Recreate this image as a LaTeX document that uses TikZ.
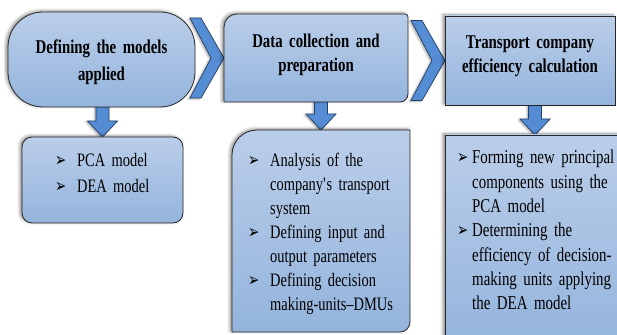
\documentclass[tikz,border=0pt]{standalone}
\usepackage{fontspec}
\usetikzlibrary{calc}
\usetikzlibrary{backgrounds}
\usetikzlibrary{shadows.blur}

\newfontfamily\boxfont[Ligatures=TeX,FakeStretch=0.76]{Liberation Serif}
\newfontfamily\bulletfont{DejaVu Sans}

\definecolor{boxtop}{RGB}{186,206,233}
\definecolor{boxbottom}{RGB}{148,180,221}
\definecolor{arrowfill}{RGB}{84,141,212}
\definecolor{arrowline}{RGB}{36,62,100}

\tikzset{shade box/.style={draw=black!85,line width=0.8pt,
  top color=boxtop,bottom color=boxbottom,
  blur shadow={shadow xshift=-2pt,shadow yshift=1pt,shadow blur radius=3pt,shadow opacity=45}}}
\tikzset{blue arrow/.style={draw=arrowline,line width=0.7pt,fill=arrowfill,
  blur shadow={shadow xshift=-1.5pt,shadow yshift=-1pt,shadow blur radius=2pt,shadow opacity=35}}}

% marcador de item com recuo pendente
\newcommand\marca[1]{\hangindent=#1\hangafter=1\noindent
  \makebox[#1][l]{\raisebox{0pt}{\scalebox{0.7}[1]{\bulletfont\fontsize{19}{19}\selectfont ➢}}}}
\newcommand\quebra{\hfil\break}
\newcommand\espaco{\spaceskip=3.6pt plus 1pt minus 0.5pt}

\begin{document}
\begin{tikzpicture}[x=1pt,y=1pt,
    area/.style={inner sep=0pt,outer sep=0pt},
    title text/.style={inner sep=0pt,align=center,anchor=base,text width=180pt},
    list text/.style={inner sep=0pt,anchor=base west,text width=175pt}]

    \useasboundingbox (0,0) rectangle (617,334);
    \clip (0,0) rectangle (617,334);

    % Caixas de cima
    \node [area,shade box,rounded corners=35pt,minimum width=187pt,minimum height=95pt]
      (models) at (101.5,274.5) {};

    \node [area,minimum width=184pt,minimum height=88pt] (data) at (316,276) {};
    \draw [shade box] (data.south west) --
      ($(data.north west)+(0,-13pt)$) arc[start angle=180,end angle=90,radius=13pt] --
      ($(data.north east)+(-3pt,0)$) arc[start angle=90,end angle=0,radius=3pt] --
      ($(data.south east)+(0,8pt)$) arc[start angle=0,end angle=-90,radius=8pt] -- cycle;

    \node [area,shade box,minimum width=170pt,minimum height=89pt]
      (calc) at (530,273.5) {};

    % Caixas de baixo
    \node [area,shade box,rounded corners=10pt,minimum width=161pt,minimum height=86pt]
      (pcadea) at (102.5,154) {};

    \node [area,minimum width=178pt,minimum height=202pt] (analysis) at (321,103) {};
    \draw [shade box] (analysis.south west) --
      ($(analysis.north west)+(0,-25pt)$) arc[start angle=180,end angle=90,radius=25pt] --
      (analysis.north east) --
      ($(analysis.south east)+(0,10pt)$) arc[start angle=0,end angle=-90,radius=10pt] -- cycle;

    \node [area,shade box,minimum width=180pt,minimum height=210pt]
      (forming) at (535,94) {};

    % Setas entre as caixas
    \begin{scope}[on background layer]
      \foreach \para in {data,calc}
        \draw [blue arrow] let \p1=(\para.west) in
          (\x1-34pt,\y1+40pt) -- (\x1-23pt,\y1+40pt) -- (\x1,\y1) --
          (\x1-23pt,\y1-40pt) -- (\x1-34pt,\y1-40pt) -- (\x1-13pt,\y1) -- cycle;

      \foreach \de/\para in {models/pcadea,data/analysis,calc/forming}
        \draw [blue arrow] let \p1=(\de.south), \p2=(\para.north) in
          (\x2-6.5pt,\y1+4pt) -- (\x2-6.5pt,\y2+16pt) -- (\x2-15pt,\y2+16pt) --
          (\x2,\y2) -- (\x2+15pt,\y2+16pt) -- (\x2+6.5pt,\y2+16pt) --
          (\x2+6.5pt,\y1+4pt) -- cycle;
    \end{scope}

    % Títulos
    \node [title text,font={\boxfont\bfseries\fontsize{19.5}{27}\selectfont\espaco}]
      (models title) at (101.5,280.5) {Defining the models\\applied};
    \node [title text,font={\boxfont\bfseries\fontsize{19.5}{24}\selectfont\espaco}]
      (data title) at (316,286) {Data collection and\\preparation};
    \node [title text,font={\boxfont\bfseries\fontsize{19.5}{24}\selectfont\espaco}]
      (calc title) at (530,285.5) {Transport company\\efficiency calculation};

    % Listas
    \node [list text,font={\boxfont\fontsize{19}{26}\selectfont\espaco}]
      (models list) at (55,167) {\marca{22pt}PCA model\par\marca{22pt}DEA model\par};

    \node [list text,font={\boxfont\fontsize{19}{23.9}\selectfont\espaco}]
      (data list) at (248,167) {%
        \marca{22pt}Analysis of the\quebra company\textquotesingle s transport\quebra system\par
        \marca{22pt}Defining input and\quebra output parameters\par
        \marca{22pt}Defining decision\quebra making-units--DMUs\par};

    \node [list text,font={\boxfont\fontsize{19.6}{24.3}\selectfont\espaco}]
      (calc list) at (457,170) {%
        \marca{15pt}Forming new principal\quebra components using the\quebra PCA model\par
        \marca{15pt}Determining the\quebra efficiency of decision-\quebra
        making units applying\quebra the DEA model\par};

\end{tikzpicture}
\end{document}
